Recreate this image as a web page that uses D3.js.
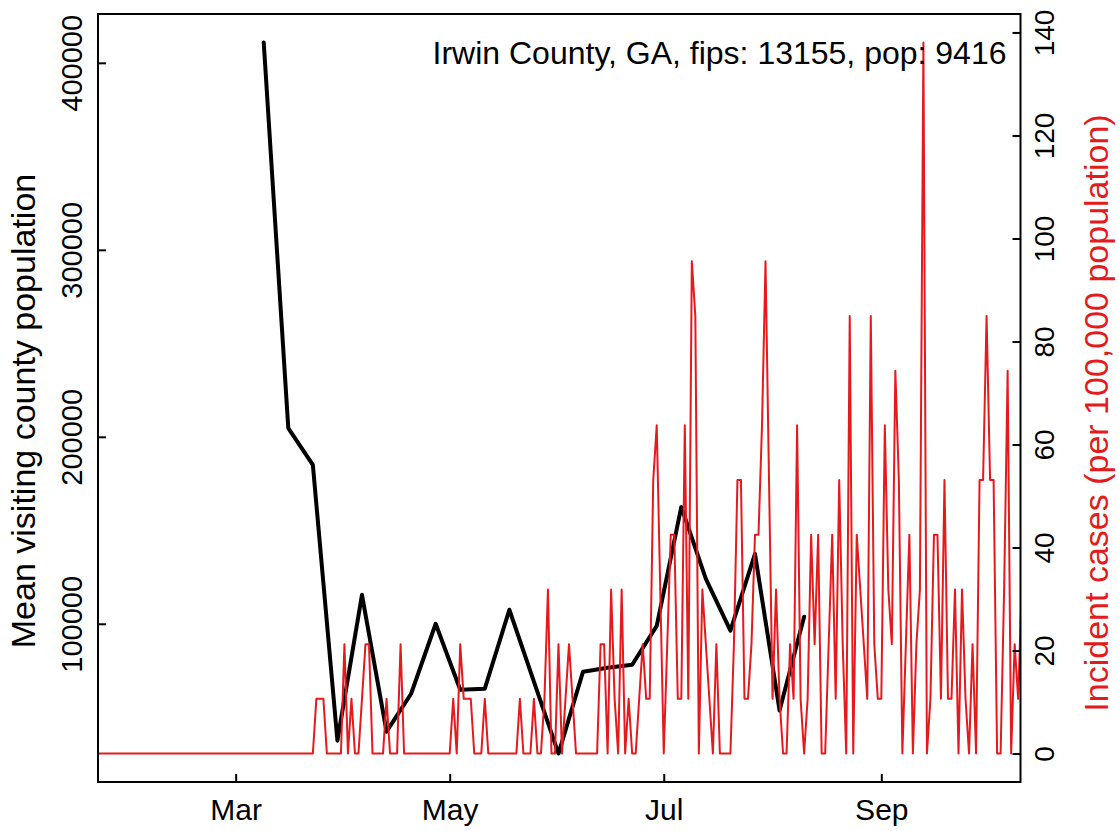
<!DOCTYPE html>
<html><head><meta charset="utf-8">
<script src="https://cdn.jsdelivr.net/npm/d3@7"></script>
<style>
body{margin:0;background:#fff}
svg{display:block}
text{font-family:"Liberation Sans",Arial,Helvetica,sans-serif}
</style>
</head><body>
<svg id="chart" width="1119" height="831"></svg>
<script>
// ---------------- data ----------------
const titleText = "Irwin County, GA, fips: 13155, pop: 9416";
const leftAxisTitle = "Mean visiting county population";
const rightAxisTitle = "Incident cases (per 100,000 population)";

const visitDates = ["2020-03-09","2020-03-16","2020-03-23","2020-03-30","2020-04-06","2020-04-13",
  "2020-04-20","2020-04-27","2020-05-04","2020-05-11","2020-05-18","2020-05-25","2020-06-01",
  "2020-06-08","2020-06-15","2020-06-22","2020-06-29","2020-07-06","2020-07-13","2020-07-20",
  "2020-07-27","2020-08-03","2020-08-10"];
const visitValues = [410900,204600,185000,37500,115500,42300,62600,100000,64700,65300,107500,
  69100,30600,74400,76500,78100,98900,162500,124000,96300,137400,53600,103800];

const caseStartDate = "2020-01-22";   // daily series, one value per day
const caseRates = [
  0,0,0,0,0,0,0,0,0,0,
  0,0,0,0,0,0,0,0,0,0,
  0,0,0,0,0,0,0,0,0,0,
  0,0,0,0,0,0,0,0,0,0,
  0,0,0,0,0,0,0,0,0,0,
  0,0,0,0,0,0,0,0,0,0,
  0,0,10.62,10.62,10.62,0,0,0,0,0,
  21.24,0,10.62,0,0,10.62,21.24,21.24,0,0,
  0,0,10.62,0,0,0,21.24,0,0,0,
  0,0,0,0,0,0,0,0,0,0,
  0,10.62,0,21.24,10.62,10.62,10.62,0,0,0,
  10.62,0,0,0,0,0,0,0,0,0,
  10.62,0,0,0,10.62,0,0,10.62,31.86,0,
  0,21.24,0,10.62,21.24,10.62,0,0,0,0,
  0,0,0,21.24,21.24,0,31.86,10.62,0,31.86,
  0,10.62,0,0,10.62,21.24,10.62,10.62,53.10,63.72,
  31.86,0,21.24,42.48,42.48,10.62,10.62,63.72,10.62,95.58,
  84.96,0,31.86,21.24,10.62,0,21.24,0,0,0,
  0,21.24,53.10,53.10,10.62,10.62,21.24,42.48,42.48,63.72,
  95.58,53.10,10.62,31.86,10.62,0,0,21.24,10.62,63.72,
  10.62,0,10.62,42.48,21.24,42.48,0,0,21.24,42.48,
  10.62,53.10,21.24,0,84.96,0,42.48,31.86,21.24,10.62,
  84.96,21.24,10.62,10.62,63.72,31.86,21.24,74.34,53.10,0,
  21.24,42.48,0,21.24,31.86,138.06,0,10.62,42.48,42.48,
  10.62,53.10,10.62,10.62,31.86,0,31.86,10.62,0,21.24,
  0,53.10,53.10,84.96,53.10,53.10,0,0,31.86,74.34,
  0,21.24,10.62,31.86
];

const leftTicks = [100000,200000,300000,400000];
const rightTicks = [0,20,40,60,80,100,120,140];
const monthTicks = ["2020-03-01","2020-05-01","2020-07-01","2020-09-01"];
const monthLabels = ["Mar","May","Jul","Sep"];
const xDomain = ["2020-01-21T18:30:00Z","2020-10-10T16:00:00Z"];

// ---------------- layout ----------------
const plot = {left:98, right:1020.5, top:14, bottom:782};
const RED = "#e41a1c";
const svg = d3.select("#chart");
const parse = d3.utcParse("%Y-%m-%d");

const x = d3.scaleUtc().domain(xDomain.map(s => new Date(s))).range([plot.left, plot.right]);

const vMin = d3.min(visitValues), vMax = d3.max(visitValues), vPad = (vMax - vMin) * 0.04;
const yL = d3.scaleLinear().domain([vMin - vPad, vMax + vPad]).range([plot.bottom, plot.top]);

const cMin = d3.min(caseRates), cMax = d3.max(caseRates), cPad = (cMax - cMin) * 0.04;
const yR = d3.scaleLinear().domain([cMin - cPad, cMax + cPad]).range([plot.bottom, plot.top]);

const start = parse(caseStartDate);
const caseData = caseRates.map((v, i) => ({date: d3.utcDay.offset(start, i), v}));
const visitData = visitDates.map((d, i) => ({date: parse(d), v: visitValues[i]}));

svg.append("defs").append("clipPath").attr("id","clip")
  .append("rect").attr("x",plot.left).attr("y",plot.top)
  .attr("width",plot.right-plot.left).attr("height",plot.bottom-plot.top);

// black line (mean visiting population)
svg.append("path").datum(visitData)
  .attr("clip-path","url(#clip)")
  .attr("fill","none").attr("stroke","#000").attr("stroke-width",4)
  .attr("stroke-linejoin","round").attr("stroke-linecap","round")
  .attr("d", d3.line().x(d => x(d.date)).y(d => yL(d.v)));

// red line (incident cases)
svg.append("path").datum(caseData)
  .attr("clip-path","url(#clip)")
  .attr("fill","none").attr("stroke",RED).attr("stroke-width",2)
  .attr("stroke-linejoin","round")
  .attr("d", d3.line().x(d => x(d.date)).y(d => yR(d.v)));

// box
svg.append("rect").attr("x",plot.left).attr("y",plot.top)
  .attr("width",plot.right-plot.left).attr("height",plot.bottom-plot.top)
  .attr("fill","none").attr("stroke","#000").attr("stroke-width",2);

function styleAxis(g){
  g.select(".domain").remove();
  g.selectAll(".tick line").attr("stroke","#000").attr("stroke-width",2);
  g.selectAll(".tick text").attr("fill","#000");
}

// left axis
const gL = svg.append("g").attr("transform",`translate(${plot.left},0)`)
  .call(d3.axisLeft(yL).tickValues(leftTicks).tickSize(-8).tickFormat(d3.format("d")));
styleAxis(gL);
gL.selectAll(".tick text").attr("x",null).attr("dy",null).attr("y",null)
  .attr("text-anchor","middle").attr("font-size",29)
  .attr("transform","translate(-16,0) rotate(-90)");

// right axis
const gR = svg.append("g").attr("transform",`translate(${plot.right},0)`)
  .call(d3.axisRight(yR).tickValues(rightTicks).tickSize(-8).tickFormat(d3.format("d")));
styleAxis(gR);
gR.selectAll(".tick text").attr("x",null).attr("dy",null).attr("y",null)
  .attr("text-anchor","middle").attr("font-size",28)
  .attr("transform","translate(33,0) rotate(-90)");

// bottom axis
const gB = svg.append("g").attr("transform",`translate(0,${plot.bottom})`)
  .call(d3.axisBottom(x).tickValues(monthTicks.map(parse)).tickSize(-8)
    .tickFormat((d, i) => monthLabels[i]));
styleAxis(gB);
gB.selectAll(".tick text").attr("y",38).attr("dy",null).attr("font-size",30);

// axis titles
svg.append("text").attr("transform","translate(35,411) rotate(-90)")
  .attr("text-anchor","middle").attr("font-size",34).attr("fill","#000").text(leftAxisTitle);
svg.append("text").attr("transform","translate(1108,413) rotate(-90)")
  .attr("text-anchor","middle").attr("font-size",34).attr("fill",RED).text(rightAxisTitle);

// county label
svg.append("text").attr("x",1006.5).attr("y",64).attr("text-anchor","end")
  .attr("font-size",32).attr("fill","#000").text(titleText);
</script>
</body></html>
